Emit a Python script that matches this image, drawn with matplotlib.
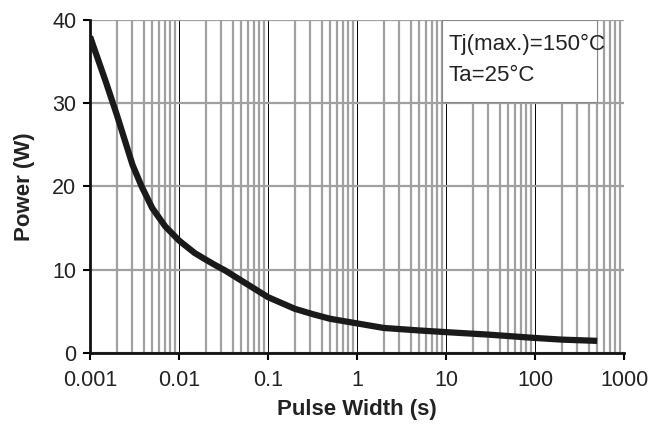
import numpy as np
import matplotlib
matplotlib.use('Agg')
import matplotlib.pyplot as plt
from matplotlib.patches import Rectangle
from matplotlib.ticker import LogLocator, FixedLocator, NullFormatter

plt.rcParams['font.family'] = ['Liberation Sans', 'DejaVu Sans']

# pulse width (s) vs allowable power (W)
pulse_width = [0.001, 0.0015, 0.002, 0.003, 0.0038, 0.005, 0.007, 0.01, 0.015,
               0.02, 0.025, 0.033, 0.05, 0.1, 0.2, 0.32, 0.5, 1, 2, 5,
               10, 30, 100, 200, 500]
power = [38.0, 32.6, 28.6, 22.6, 20.0, 17.4, 15.2, 13.5, 12.0,
         11.2, 10.6, 9.9, 8.7, 6.7, 5.3, 4.65, 4.1, 3.55, 3.0, 2.7,
         2.5, 2.2, 1.8, 1.6, 1.45]

x_ticks = [0.001, 0.01, 0.1, 1, 10, 100, 1000]
x_labels = ['0.001', '0.01', '0.1', '1', '10', '100', '1000']
y_ticks = [0, 10, 20, 30, 40]
note_lines = ['Tj(max.)=150°C', 'Ta=25°C']

fig = plt.figure(figsize=(6.62, 4.32), dpi=100)
ax = fig.add_axes([0.136, 0.183, 0.8066, 0.771])

ax.set_xscale('log')
ax.set_xlim(0.001, 1000)
ax.set_ylim(0, 40)

# minor vertical grid (gray) and major vertical grid (thin black)
ax.xaxis.set_minor_locator(LogLocator(base=10, subs=np.arange(2, 10)))
ax.xaxis.set_minor_formatter(NullFormatter())
ax.grid(True, which='minor', axis='x', color='#a0a0a0', linewidth=1.6)
ax.grid(True, which='major', axis='x', color='black', linewidth=0.7)
ax.grid(True, which='major', axis='y', color='#a0a0a0', linewidth=1.6)
ax.set_axisbelow(True)

ax.xaxis.set_major_locator(FixedLocator(x_ticks))
ax.set_xticklabels(x_labels)
ax.set_yticks(y_ticks)
ax.tick_params(axis='both', which='major', labelsize=15.5, direction='out',
               length=5, width=1.5, color='black', labelcolor='#222222')
ax.tick_params(axis='x', which='major', pad=7)
ax.tick_params(axis='y', which='major', pad=5)
ax.tick_params(axis='x', which='minor', length=0)

for side in ['top', 'right']:
    ax.spines[side].set_visible(False)
for side in ['left', 'bottom']:
    ax.spines[side].set_linewidth(2)
    ax.spines[side].set_color('#111111')

ax.plot(pulse_width, power, color='#1a1a1a', linewidth=4.5,
        solid_capstyle='butt', solid_joinstyle='round', zorder=3)

ax.set_xlabel('Pulse Width (s)', fontsize=16, fontweight='bold', labelpad=6,
              color='#222222')
ax.set_ylabel('Power (W)', fontsize=16, fontweight='bold', labelpad=12,
              color='#222222')

# annotation box
ax.add_patch(Rectangle((0.659, 0.754), 0.29, 0.246, transform=ax.transAxes,
                       facecolor='white', edgecolor='#888888', linewidth=0.8,
                       zorder=4))
for i, line in enumerate(note_lines):
    ax.text(0.672, 0.91 - i * 0.093, line, transform=ax.transAxes,
            fontsize=16, va='baseline', ha='left', zorder=5, color='#222222')

fig.savefig('out.png', dpi=100)
